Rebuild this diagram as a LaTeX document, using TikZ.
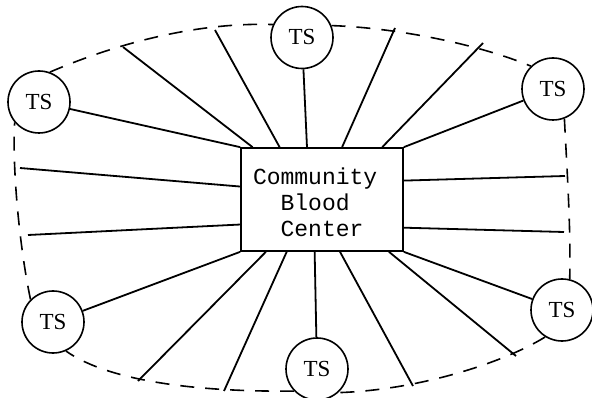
\documentclass[tikz,border=0pt]{standalone}
\usepackage{fontspec}
\setmainfont{Liberation Serif}
\newfontfamily\boxfont{Liberation Mono}
\usetikzlibrary{calc}

\begin{document}
\begin{tikzpicture}[
  x=1pt, y=-1pt,
  station/.style={draw, circle, fill=white, minimum size=62pt, inner sep=0pt, line width=1.6pt, font=\fontsize{23}{26}\selectfont},
  bloodbox/.style={draw, fill=white, minimum height=103pt, text width=138pt, text height=23pt, inner xsep=12pt, line width=1.7pt, align=left, font=\boxfont\fontsize{23}{26}\selectfont},
  spoke/.style={draw=black, line width=1.8pt},
  boundary/.style={draw=black, line width=1.6pt, dash pattern=on 14pt off 11pt}
]
  \useasboundingbox (0,0) rectangle (592,398);

  \node[bloodbox] (cbc) at (322,199.5) {Community\\\phantom{Co}Blood\\\phantom{Co}Center};

  \node[station] (tsnw) at (39,102) {TS};
  \node[station] (tsn) at (302,37.5) {TS};
  \node[station] (tsne) at (553,89) {TS};
  \node[station] (tsse) at (562,310) {TS};
  \node[station] (tss) at (317,369) {TS};
  \node[station] (tssw) at (53,322) {TS};

  % outer ends of the spokes on the dashed ring
  \coordinate (e1) at (123,47);
  \coordinate (e2) at (215,30);
  \coordinate (e3) at (395,28);
  \coordinate (e4) at (483,43);
  \coordinate (e5) at (565,176);
  \coordinate (e6) at (564,232);
  \coordinate (e7) at (516,356);
  \coordinate (e8) at (413,386);
  \coordinate (e9) at (224,391);
  \coordinate (e10) at (138,381);
  \coordinate (e11) at (20,168);
  \coordinate (e12) at (28,235);

  % dashed ring
  \draw[boundary] (tsnw.70) .. controls (120,42) and (200,22) .. (tsn.156);
  \draw[boundary] (tsn.22) .. controls (400,28) and (480,45) .. (tsne.134);
  \draw[boundary] (tsne.-69) .. controls (567,170) and (571,230) .. (tsse.76);
  \draw[boundary] (tsse.238) .. controls (505,362) and (420,390) .. (tss.312);
  \draw[boundary] (tss.224) .. controls (200,392) and (110,382) .. (tssw.-66);
  \draw[boundary] (tssw.135) .. controls (20,250) and (12,170) .. (tsnw.220);

  % spokes
  \draw[spoke] (cbc.north west) -- (tsnw);
  \draw[spoke] (cbc.143.7) -- (e1);
  \draw[spoke] (cbc.129.9) -- (e2);
  \draw[spoke] (cbc.106.2) -- (tsn);
  \draw[spoke] (cbc.69.7) -- (e3);
  \draw[spoke] (cbc.41.1) -- (e4);
  \draw[spoke] (cbc.north east) -- (tsne);
  \draw[spoke] (cbc.13.5) -- (e5);
  \draw[spoke] (cbc.-19.4) -- (e6);
  \draw[spoke] (cbc.south east) -- (tsse);
  \draw[spoke] (cbc.-38.4) -- (e7);
  \draw[spoke] (cbc.-71.7) -- (e8);
  \draw[spoke] (cbc.-98.8) -- (tss);
  \draw[spoke] (cbc.-124.2) -- (e9);
  \draw[spoke] (cbc.-137.9) -- (e10);
  \draw[spoke] (cbc.south west) -- (tssw);
  \draw[spoke] (cbc.-163.2) -- (e12);
  \draw[spoke] (cbc.171.9) -- (e11);
\end{tikzpicture}
\end{document}
